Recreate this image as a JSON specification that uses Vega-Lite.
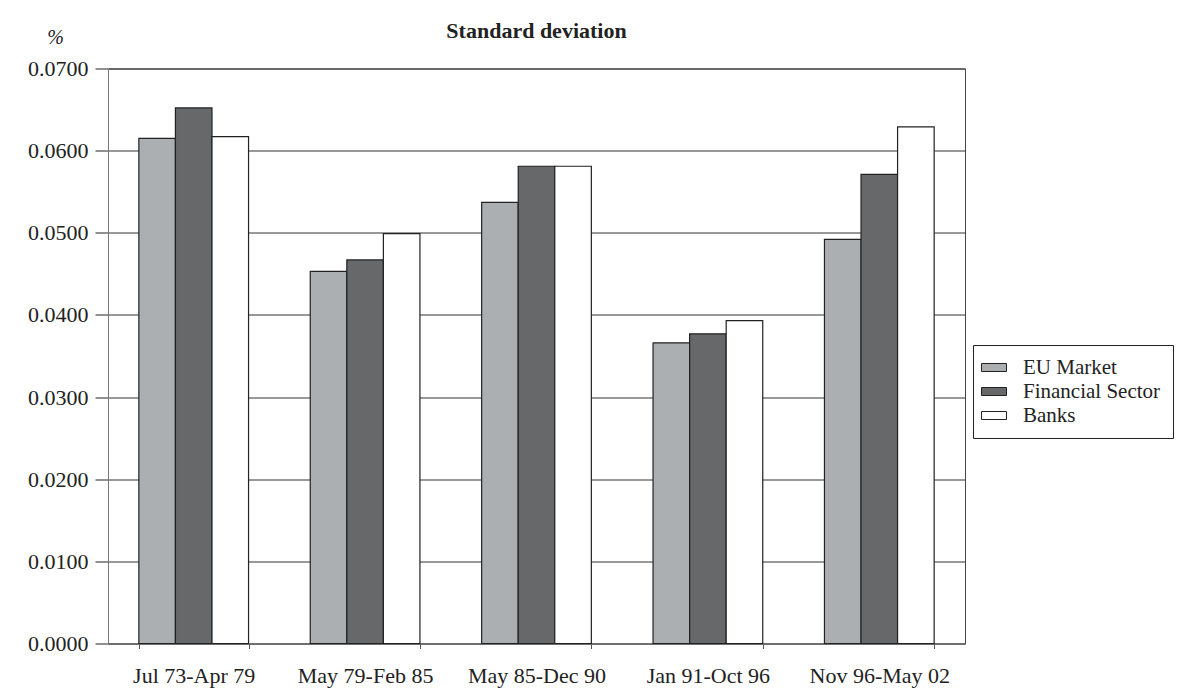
{
  "$schema": "https://vega.github.io/schema/vega-lite/v6.json",
  "autosize": "none",
  "width": 857,
  "height": 575,
  "padding": {"left": 108, "top": 68.5, "right": 231, "bottom": 56.5},
  "background": "white",
  "title": {
    "text": "Standard deviation",
    "font": "Liberation Serif",
    "fontSize": 22,
    "fontWeight": "bold",
    "color": "#222",
    "anchor": "middle",
    "frame": "group",
    "baseline": "alphabetic",
    "offset": 0,
    "dy": 32
  },
  "data": {
    "values": [
      {"period": "Jul 73-Apr 79", "series": "EU Market", "value": 0.0615},
      {"period": "Jul 73-Apr 79", "series": "Financial Sector", "value": 0.0652},
      {"period": "Jul 73-Apr 79", "series": "Banks", "value": 0.0617},
      {"period": "May 79-Feb 85", "series": "EU Market", "value": 0.0453},
      {"period": "May 79-Feb 85", "series": "Financial Sector", "value": 0.0467},
      {"period": "May 79-Feb 85", "series": "Banks", "value": 0.0499},
      {"period": "May 85-Dec 90", "series": "EU Market", "value": 0.0537},
      {"period": "May 85-Dec 90", "series": "Financial Sector", "value": 0.0581},
      {"period": "May 85-Dec 90", "series": "Banks", "value": 0.0581},
      {"period": "Jan 91-Oct 96", "series": "EU Market", "value": 0.0366},
      {"period": "Jan 91-Oct 96", "series": "Financial Sector", "value": 0.0377},
      {"period": "Jan 91-Oct 96", "series": "Banks", "value": 0.0393},
      {"period": "Nov 96-May 02", "series": "EU Market", "value": 0.0492},
      {"period": "Nov 96-May 02", "series": "Financial Sector", "value": 0.0571},
      {"period": "Nov 96-May 02", "series": "Banks", "value": 0.0629}
    ]
  },
  "mark": {"type": "bar", "stroke": "#222", "strokeWidth": 1.2},
  "encoding": {
    "x": {
      "field": "period",
      "type": "nominal",
      "sort": ["Jul 73-Apr 79", "May 79-Feb 85", "May 85-Dec 90", "Jan 91-Oct 96", "Nov 96-May 02"],
      "scale": {"paddingInner": 0.36, "paddingOuter": 0.18},
      "axis": {
        "title": null,
        "labelAngle": 0,
        "labelFont": "Liberation Serif",
        "labelFontSize": 22,
        "labelColor": "#222",
        "labelPadding": 17,
        "tickSize": 5,
        "tickBand": "extent",
        "tickColor": "#555",
        "domainColor": "#777",
        "grid": false
      }
    },
    "xOffset": {
      "field": "series",
      "type": "nominal",
      "sort": ["EU Market", "Financial Sector", "Banks"],
      "scale": {"paddingInner": 0, "paddingOuter": 0}
    },
    "y": {
      "field": "value",
      "type": "quantitative",
      "scale": {"domain": [0, 0.07], "nice": false},
      "axis": {
        "title": "%",
        "titleAngle": 0,
        "titleX": -53,
        "titleY": -31,
        "titleAlign": "center",
        "titleBaseline": "middle",
        "titleFont": "Liberation Serif",
        "titleFontSize": 20,
        "titleFontStyle": "italic",
        "titleFontWeight": "normal",
        "titleColor": "#222",
        "values": [0, 0.01, 0.02, 0.03, 0.04, 0.05, 0.06, 0.07],
        "format": ".4f",
        "labelFont": "Liberation Serif",
        "labelFontSize": 22,
        "labelColor": "#222",
        "labelPadding": 7,
        "tickSize": 13,
        "tickColor": "#222",
        "domainColor": "#777",
        "grid": true,
        "gridColor": "#333",
        "gridWidth": 1
      }
    },
    "fill": {
      "field": "series",
      "type": "nominal",
      "sort": ["EU Market", "Financial Sector", "Banks"],
      "scale": {
        "domain": ["EU Market", "Financial Sector", "Banks"],
        "range": ["#acafb2", "#67686a", "#ffffff"]
      },
      "legend": {
        "title": null,
        "orient": "none",
        "legendX": 865,
        "legendY": 276.5,
        "strokeColor": "#222",
        "fillColor": "white",
        "padding": 12,
        "symbolType": "M-1.4,-0.4H1.1V0.4H-1.4Z",
        "symbolSize": 400,
        "symbolStrokeColor": "#222",
        "symbolStrokeWidth": 1,
        "labelFont": "Liberation Serif",
        "labelFontSize": 21,
        "labelColor": "#222",
        "labelOffset": 17,
        "rowPadding": 2,
        "labelLimit": 300
      }
    }
  },
  "config": {
    "view": {"stroke": "#444", "strokeWidth": 1}
  }
}
